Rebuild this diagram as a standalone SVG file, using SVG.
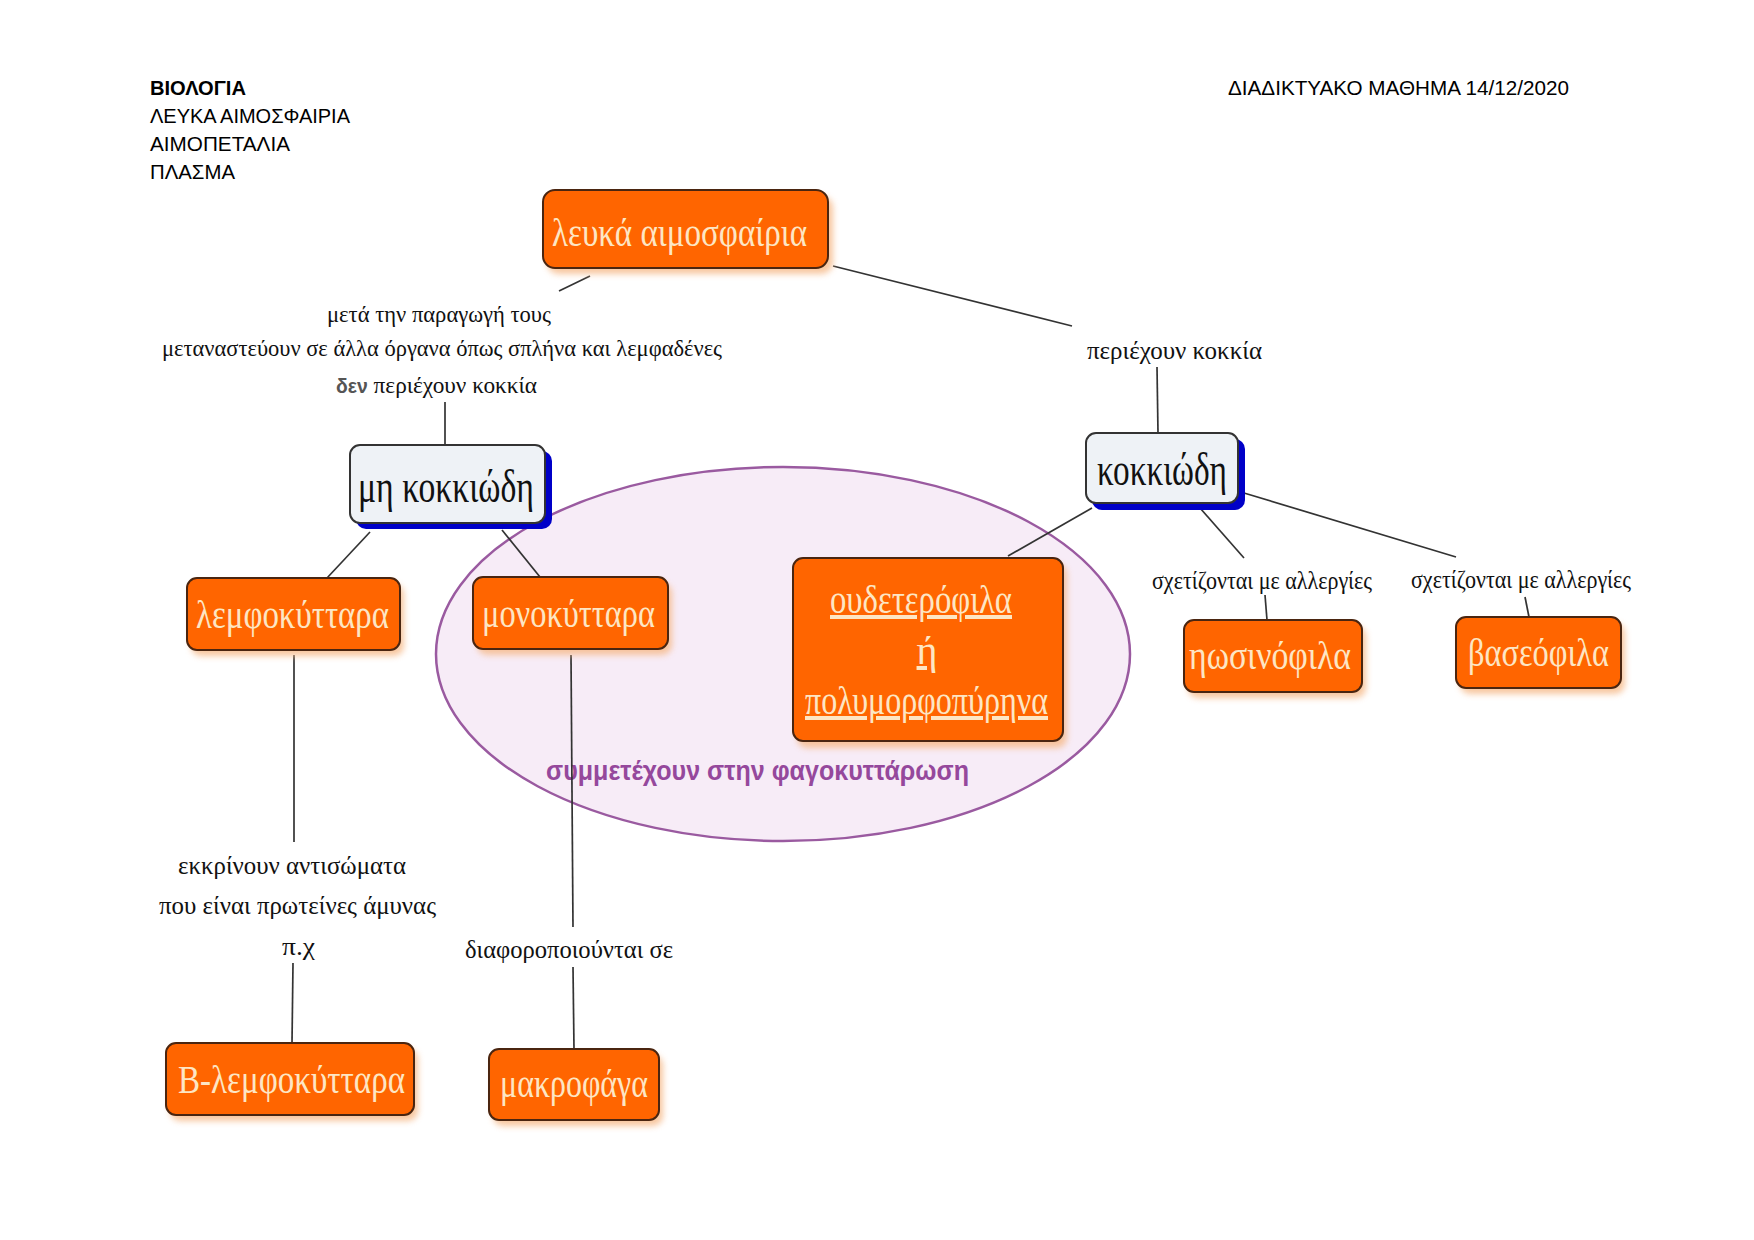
<svg xmlns="http://www.w3.org/2000/svg" width="1754" height="1240" viewBox="0 0 1754 1240">
<defs>
<filter id="soft" x="-20%" y="-20%" width="140%" height="140%"><feGaussianBlur stdDeviation="3"/></filter>
</defs>
<style>
.hdr{font-family:"Liberation Sans",Arial,sans-serif;font-size:20px;fill:#000}
.lbl{font-family:"Liberation Serif","Times New Roman",serif;font-size:26px;fill:#111;text-anchor:start}
.lbs{font-family:"Liberation Serif","Times New Roman",serif;font-size:24px;fill:#111;text-anchor:start}
.ot{font-family:"Liberation Serif","Times New Roman",serif;font-size:40px;fill:#fde6c4}
.lt{font-family:"Liberation Serif","Times New Roman",serif;font-size:46px;fill:#111}
.ob{fill:#ff6500;stroke:#4a2510;stroke-width:2}
.osh{fill:#f6b988;opacity:0.8;filter:url(#soft)}
.lb{fill:#eef2f6;stroke:#333;stroke-width:2}
.bsh{fill:#0000c8}
.con line{stroke:#333;stroke-width:1.7;fill:none}
</style>
<rect width="1754" height="1240" fill="#fff"/>

<g id="header">
<text class="hdr" x="150" y="95" font-weight="bold" textLength="96" lengthAdjust="spacingAndGlyphs">ΒΙΟΛΟΓΙΑ</text>
<text class="hdr" x="150" y="123" textLength="200" lengthAdjust="spacingAndGlyphs">ΛΕΥΚΑ ΑΙΜΟΣΦΑΙΡΙΑ</text>
<text class="hdr" x="150" y="151" textLength="140" lengthAdjust="spacingAndGlyphs">ΑΙΜΟΠΕΤΑΛΙΑ</text>
<text class="hdr" x="150" y="179" textLength="85" lengthAdjust="spacingAndGlyphs">ΠΛΑΣΜΑ</text>
<text class="hdr" x="1228" y="95" textLength="341" lengthAdjust="spacingAndGlyphs">ΔΙΑΔΙΚΤΥΑΚΟ ΜΑΘΗΜΑ 14/12/2020</text>
</g>

<g id="phagocytosis">
<ellipse cx="783" cy="654" rx="347" ry="187" fill="#f7ecf7" stroke="#9a5aa0" stroke-width="2.5"/>
<text x="546" y="780" font-family="'Liberation Sans',Arial,sans-serif" font-weight="bold" font-size="27" fill="#95489c" textLength="423" lengthAdjust="spacingAndGlyphs">συμμετέχουν στην φαγοκυττάρωση</text>
</g>

<g id="connectors" class="con">
<line x1="590" y1="276" x2="559" y2="291"/>
<line x1="445" y1="402" x2="445" y2="445"/>
<line x1="833" y1="266" x2="1072" y2="326"/>
<line x1="1157" y1="367" x2="1158" y2="433"/>
<line x1="370" y1="532" x2="327" y2="578"/>
<line x1="502" y1="530" x2="540" y2="577"/>
<line x1="294" y1="655" x2="294" y2="842"/>
<line x1="293" y1="963" x2="292" y2="1043"/>
<line x1="571" y1="655" x2="573" y2="927"/>
<line x1="573" y1="967" x2="574" y2="1049"/>
<line x1="1092" y1="508" x2="1008" y2="556"/>
<line x1="1200" y1="508" x2="1244" y2="558"/>
<line x1="1265" y1="595" x2="1267" y2="620"/>
<line x1="1244" y1="493" x2="1456" y2="557"/>
<line x1="1525" y1="597" x2="1529" y2="617"/>
</g>

<g id="labels">
<text class="lbs" x="327" y="322" textLength="224" lengthAdjust="spacingAndGlyphs">μετά την παραγωγή τους</text>
<text class="lbs" x="162" y="356" textLength="560" lengthAdjust="spacingAndGlyphs">μεταναστεύουν σε άλλα όργανα όπως σπλήνα και λεμφαδένες</text>
<text class="lbs" x="336" y="393" textLength="201" lengthAdjust="spacingAndGlyphs"><tspan font-family="'Liberation Sans',Arial,sans-serif" font-weight="bold" fill="#555" font-size="20">δεν</tspan> περιέχουν κοκκία</text>
<text class="lbl" x="1087" y="359" textLength="175" lengthAdjust="spacingAndGlyphs">περιέχουν κοκκία</text>
<text class="lbl" x="1152" y="589" textLength="220" lengthAdjust="spacingAndGlyphs">σχετίζονται με αλλεργίες</text>
<text class="lbl" x="1411" y="588" textLength="220" lengthAdjust="spacingAndGlyphs">σχετίζονται με αλλεργίες</text>
<text class="lbl" x="178" y="874" textLength="228" lengthAdjust="spacingAndGlyphs">εκκρίνουν αντισώματα</text>
<text class="lbl" x="159" y="914" textLength="277" lengthAdjust="spacingAndGlyphs">που είναι πρωτείνες άμυνας</text>
<text class="lbl" x="282" y="955" textLength="33" lengthAdjust="spacingAndGlyphs">π.χ</text>
<text class="lbl" x="465" y="958" textLength="208" lengthAdjust="spacingAndGlyphs">διαφοροποιούνται σε</text>
</g>

<g id="n-leuka">
<rect class="osh" x="547" y="196" width="286" height="78" rx="12"/>
<rect class="ob" x="543" y="190" width="285" height="78" rx="12"/>
<text class="ot" x="552" y="246" textLength="255" lengthAdjust="spacingAndGlyphs">λευκά αιμοσφαίρια</text>
</g>

<g id="n-mh-kokkiwdh">
<rect class="bsh" x="356" y="451" width="196" height="78" rx="10"/>
<rect class="lb" x="350" y="445" width="195" height="78" rx="10"/>
<text class="lt" x="358" y="502" textLength="176" lengthAdjust="spacingAndGlyphs">μη κοκκιώδη</text>
</g>

<g id="n-kokkiwdh">
<rect class="bsh" x="1092" y="439" width="153" height="71" rx="10"/>
<rect class="lb" x="1086" y="433" width="152" height="70" rx="10"/>
<text class="lt" x="1097" y="485" textLength="130" lengthAdjust="spacingAndGlyphs">κοκκιώδη</text>
</g>

<g id="n-lemfokyttara">
<rect class="osh" x="191" y="584" width="213" height="72" rx="10"/>
<rect class="ob" x="187" y="578" width="213" height="72" rx="10"/>
<text class="ot" x="196" y="628" textLength="193" lengthAdjust="spacingAndGlyphs">λεμφοκύτταρα</text>
</g>

<g id="n-monokyttara">
<rect class="osh" x="477" y="583" width="195" height="72" rx="10"/>
<rect class="ob" x="473" y="577" width="195" height="72" rx="10"/>
<text class="ot" x="482" y="627" textLength="173" lengthAdjust="spacingAndGlyphs">μονοκύτταρα</text>
</g>

<g id="n-oudeterofila">
<rect class="osh" x="797" y="564" width="270" height="184" rx="10"/>
<rect class="ob" x="793" y="558" width="270" height="183" rx="10"/>
<text class="ot" x="830" y="613" textLength="182" lengthAdjust="spacingAndGlyphs" text-decoration="underline">ουδετερόφιλα</text>
<text class="ot" x="927" y="664" text-anchor="middle" text-decoration="underline">ή</text>
<text class="ot" x="805" y="714" textLength="243" lengthAdjust="spacingAndGlyphs" text-decoration="underline">πολυμορφοπύρηνα</text>
</g>

<g id="n-hwsinofila">
<rect class="osh" x="1188" y="626" width="178" height="72" rx="10"/>
<rect class="ob" x="1184" y="620" width="178" height="72" rx="10"/>
<text class="ot" x="1189" y="669" textLength="162" lengthAdjust="spacingAndGlyphs">ηωσινόφιλα</text>
</g>

<g id="n-vaseofila">
<rect class="osh" x="1460" y="623" width="165" height="71" rx="10"/>
<rect class="ob" x="1456" y="617" width="165" height="71" rx="10"/>
<text class="ot" x="1468" y="666" textLength="141" lengthAdjust="spacingAndGlyphs">βασεόφιλα</text>
</g>

<g id="n-b-lemfokyttara">
<rect class="osh" x="170" y="1049" width="248" height="72" rx="10"/>
<rect class="ob" x="166" y="1043" width="248" height="72" rx="10"/>
<text class="ot" x="178" y="1093" textLength="227" lengthAdjust="spacingAndGlyphs">Β-λεμφοκύτταρα</text>
</g>

<g id="n-makrofaga">
<rect class="osh" x="493" y="1055" width="170" height="71" rx="10"/>
<rect class="ob" x="489" y="1049" width="170" height="71" rx="10"/>
<text class="ot" x="500" y="1097" textLength="148" lengthAdjust="spacingAndGlyphs">μακροφάγα</text>
</g>
</svg>
